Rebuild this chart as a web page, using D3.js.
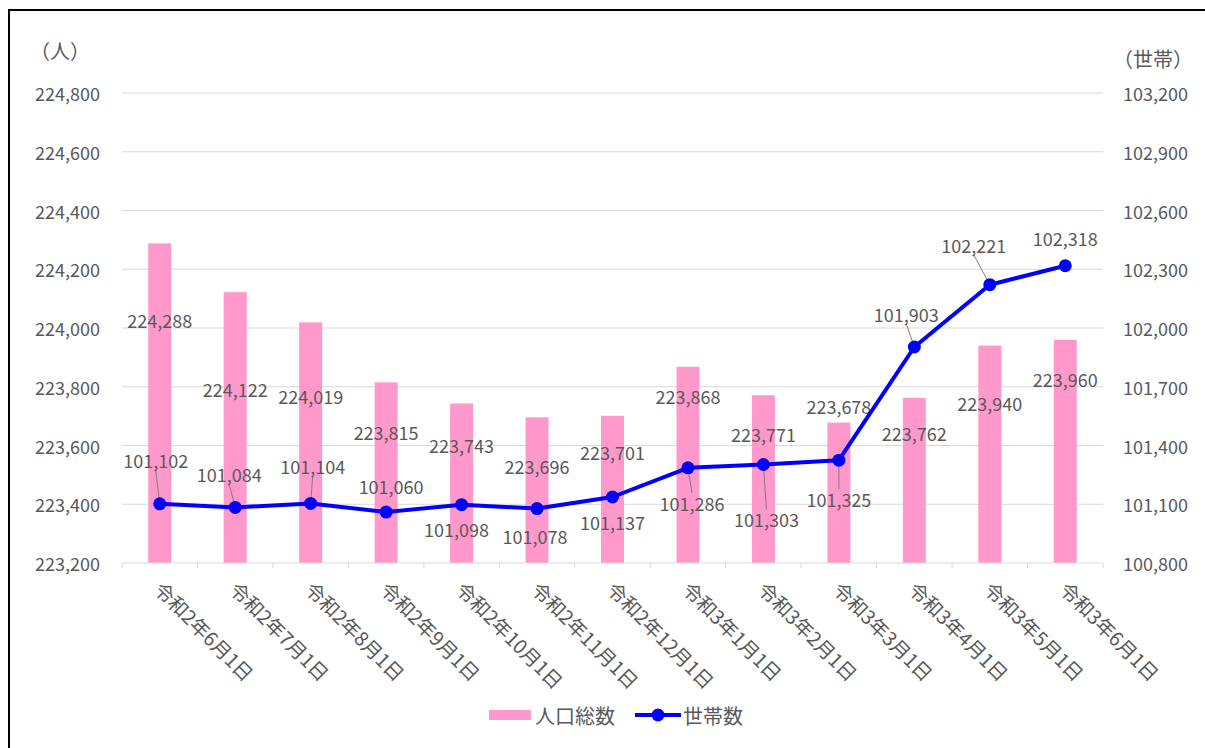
<!DOCTYPE html>
<html>
<head>
<meta charset="utf-8">
<script src="https://cdn.jsdelivr.net/npm/d3@7"></script>
<style>
  body { margin: 0; background: #fff; overflow: hidden; }
  svg { display: block; }
  text { font-family: "Noto Sans CJK JP", "Noto Sans", sans-serif; fill: #595959; }
</style>
</head>
<body>
<div id="chart"></div>
<script>
// data
const categories = ["令和2年6月1日", "令和2年7月1日", "令和2年8月1日", "令和2年9月1日", "令和2年10月1日", "令和2年11月1日",
  "令和2年12月1日", "令和3年1月1日", "令和3年2月1日", "令和3年3月1日", "令和3年4月1日", "令和3年5月1日", "令和3年6月1日"];
const population = [224288, 224122, 224019, 223815, 223743, 223696, 223701, 223868, 223771, 223678, 223762, 223940, 223960];
const households = [101102, 101084, 101104, 101060, 101098, 101078, 101137, 101286, 101303, 101325, 101903, 102221, 102318];
const leftTicks = [223200, 223400, 223600, 223800, 224000, 224200, 224400, 224600, 224800];
const rightTicks = [100800, 101100, 101400, 101700, 102000, 102300, 102600, 102900, 103200];

// label placement (px offsets from the mark), like the hand-moved excel labels
const barLabelDy = [77, 97, 74, 50, 42, 49, 36, 29, 39, -17, 35, 57, 39];
const lineLabelDx = [-4, -6, 2, 5, -5, -2, 0, 4, 3, 0, -8, -16, 0];
const lineLabelDy = [-44, -33, -37, -26, 24, 27, 25, 35, 55, 39, -33, -40, -28];

const W = 1205, H = 748;
const plotL = 122, plotR = 1103, plotT = 93, plotB = 563;
const fmt = d3.format(",");

const svg = d3.select("#chart").append("svg")
  .attr("width", W).attr("height", H);

// frame (only top and left edges are inside the picture)
svg.append("path")
  .attr("d", `M9,${H + 5} V10 H${W + 5}`)
  .attr("fill", "none").attr("stroke", "#000").attr("stroke-width", 2);

const x = d3.scaleBand().domain(categories).range([plotL, plotR]).padding(0);
const yL = d3.scaleLinear().domain([223200, 224800]).range([plotB, plotT]);
const yR = d3.scaleLinear().domain([100800, 103200]).range([plotB, plotT]);

// gridlines
svg.append("g").selectAll("line").data(leftTicks.slice(1)).enter().append("line")
  .attr("x1", plotL).attr("x2", plotR)
  .attr("y1", d => yL(d)).attr("y2", d => yL(d))
  .attr("stroke", "#d9d9d9").attr("stroke-width", 1);

// left axis labels
svg.append("g").selectAll("text").data(leftTicks).enter().append("text")
  .attr("x", 100).attr("y", d => yL(d))
  .attr("text-anchor", "end").attr("dominant-baseline", "central")
  .attr("font-size", 18)
  .text(d => fmt(d));

// right axis labels
svg.append("g").selectAll("text").data(rightTicks).enter().append("text")
  .attr("x", 1123).attr("y", d => yR(d))
  .attr("dominant-baseline", "central")
  .attr("font-size", 18)
  .text(d => fmt(d));

svg.append("text").attr("x", 30).attr("y", 50).attr("dominant-baseline", "central")
  .attr("font-size", 20).text("（人）");
svg.append("text").attr("x", 1113).attr("y", 58).attr("dominant-baseline", "central")
  .attr("font-size", 20).text("（世帯）");

// bars
const barW = 23;
svg.append("g").selectAll("rect").data(population).enter().append("rect")
  .attr("x", (d, i) => x(categories[i]) + x.bandwidth() / 2 - barW / 2)
  .attr("y", d => yL(d))
  .attr("width", barW)
  .attr("height", d => plotB - yL(d))
  .attr("fill", "#ff99cc");

// x axis line + ticks
svg.append("line").attr("x1", plotL).attr("x2", plotR).attr("y1", plotB).attr("y2", plotB)
  .attr("stroke", "#d9d9d9").attr("stroke-width", 1);
const bounds = categories.map(c => x(c)).concat([plotR]);
svg.append("g").selectAll("line").data(bounds).enter().append("line")
  .attr("x1", d => d).attr("x2", d => d)
  .attr("y1", plotB).attr("y2", plotB + 5)
  .attr("stroke", "#d9d9d9");

// x labels, rotated
svg.append("g").selectAll("text").data(categories).enter().append("text")
  .attr("transform", d => `translate(${x(d) + x.bandwidth() / 2 - 1},${plotB + 22}) rotate(45)`)
  .attr("font-size", 19.5)
  .attr("dominant-baseline", "central")
  .text(d => d);

// bar labels
svg.append("g").selectAll("text").data(population).enter().append("text")
  .attr("x", (d, i) => x(categories[i]) + x.bandwidth() / 2)
  .attr("y", (d, i) => yL(d) + barLabelDy[i])
  .attr("text-anchor", "middle").attr("dominant-baseline", "central")
  .attr("font-size", 18)
  .text(d => fmt(d));

// household line
const cx = i => x(categories[i]) + x.bandwidth() / 2;
const line = d3.line().x((d, i) => cx(i)).y(d => yR(d));

// leader lines (only where the label sits far from its point)
const leaderIdx = d3.range(households.length).filter(i => Math.abs(lineLabelDy[i]) > 30);
svg.append("g").selectAll("line").data(leaderIdx).enter().append("line")
  .attr("x1", i => cx(i) + lineLabelDx[i])
  .attr("y1", i => yR(households[i]) + lineLabelDy[i] + (lineLabelDy[i] < 0 ? 10 : -10))
  .attr("x2", i => cx(i)).attr("y2", i => yR(households[i]))
  .attr("stroke", "#7f7f7f").attr("stroke-width", 1);

svg.append("path").datum(households)
  .attr("d", line).attr("fill", "none")
  .attr("stroke", "#0000ff").attr("stroke-width", 4).attr("stroke-linejoin", "round");

svg.append("g").selectAll("circle").data(households).enter().append("circle")
  .attr("cx", (d, i) => cx(i)).attr("cy", d => yR(d)).attr("r", 6.5)
  .attr("fill", "#0000ff");

svg.append("g").selectAll("text").data(households).enter().append("text")
  .attr("x", (d, i) => cx(i) + lineLabelDx[i])
  .attr("y", (d, i) => yR(d) + lineLabelDy[i])
  .attr("text-anchor", "middle").attr("dominant-baseline", "central")
  .attr("font-size", 18)
  .text(d => fmt(d));

// legend
const lg = svg.append("g");
lg.append("rect").attr("x", 489).attr("y", 710).attr("width", 42).attr("height", 10).attr("fill", "#ff99cc");
lg.append("text").attr("x", 535).attr("y", 715).attr("dominant-baseline", "central").attr("font-size", 20).text("人口総数");
lg.append("line").attr("x1", 635).attr("x2", 681).attr("y1", 715).attr("y2", 715)
  .attr("stroke", "#0000ff").attr("stroke-width", 4);
lg.append("circle").attr("cx", 658).attr("cy", 715).attr("r", 6.5).attr("fill", "#0000ff");
lg.append("text").attr("x", 683).attr("y", 715).attr("dominant-baseline", "central").attr("font-size", 20).text("世帯数");
</script>
</body>
</html>
